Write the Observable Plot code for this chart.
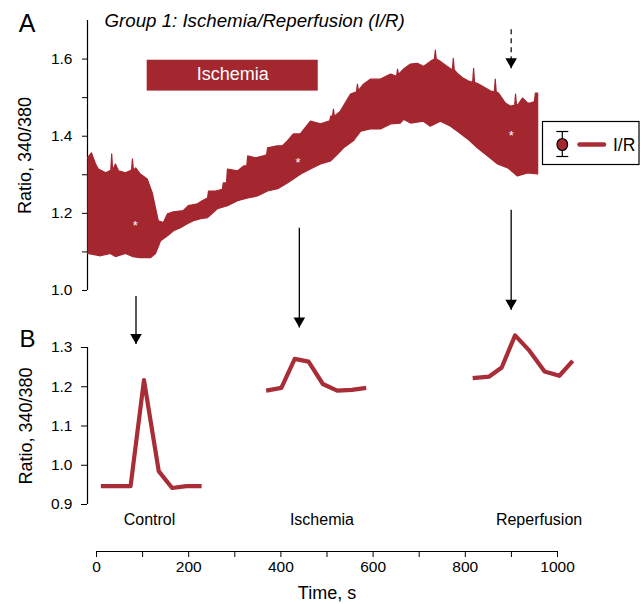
<!DOCTYPE html>
<html><head><meta charset="utf-8">
<script src="https://cdn.jsdelivr.net/npm/d3@7"></script>
<script src="https://cdn.jsdelivr.net/npm/@observablehq/plot@0.6"></script>
<style>
body{margin:0;background:#fff;}
#wrap{position:relative;width:643px;height:604px;overflow:hidden;background:#fff;}
</style></head><body>
<div id="wrap"></div>
<script>
// ---------- data ----------
// Panel A: envelope of the oscillating ratio trace
const upperT = [-19.5,-11,-2,4,20,31,33,35,41,48,63,76,78,80,85,95,110,121,128,134,145,154,167,188,199,219,230,241,243,258,273,275,282,284,306,319,326,328,345,362,369,371,392,403,414,427,442,464,486,506,508,512,514,516,529,551,564,566,568,579,594,616,638,651,653,655,666,681,696,709,724,733,735,737,746,761,772,774,776,783,796,807,816,818,820,829,844,855,863,865,867,872,887,898,907,909,911,915,924,935,941,950,952,957];
const upperV = [1.344,1.357,1.328,1.315,1.305,1.312,1.354,1.312,1.328,1.310,1.305,1.312,1.341,1.312,1.318,1.302,1.289,1.253,1.214,1.181,1.176,1.199,1.204,1.207,1.220,1.225,1.233,1.240,1.258,1.258,1.262,1.279,1.279,1.315,1.310,1.323,1.323,1.349,1.344,1.349,1.352,1.370,1.375,1.375,1.388,1.406,1.406,1.439,1.432,1.440,1.452,1.452,1.470,1.452,1.465,1.509,1.515,1.535,1.518,1.535,1.548,1.548,1.561,1.555,1.574,1.560,1.574,1.587,1.589,1.581,1.594,1.600,1.623,1.600,1.594,1.581,1.572,1.602,1.572,1.563,1.550,1.543,1.540,1.576,1.540,1.535,1.525,1.517,1.515,1.548,1.515,1.512,1.486,1.478,1.480,1.509,1.480,1.483,1.499,1.486,1.486,1.490,1.512,1.512];
const lowerT = [-19.5,9,30,41,63,78,95,117,128,139,154,167,182,197,210,226,241,262,284,306,328,349,371,393,414,427,443,464,486,508,523,536,557,573,594,616,638,659,666,681,709,724,746,768,783,805,826,848,870,892,913,935,957];
const lowerV = [1.096,1.090,1.096,1.088,1.096,1.088,1.085,1.085,1.096,1.129,1.142,1.155,1.163,1.173,1.181,1.186,1.189,1.212,1.220,1.233,1.240,1.245,1.258,1.264,1.279,1.289,1.302,1.315,1.328,1.336,1.354,1.370,1.388,1.413,1.419,1.419,1.432,1.434,1.444,1.434,1.439,1.426,1.439,1.426,1.413,1.393,1.370,1.349,1.328,1.318,1.297,1.305,1.302];
// asterisks marking the sampled beats
const starT = [84, 437, 900];
const starV = [1.177, 1.340, 1.409];
// ischemia period (s)
const ischemiaPeriod = [110, 481];
// Panel A tick values / labels
const aTicks = [1.0,1.1,1.2,1.3,1.4,1.5,1.6];
const aTickLabels = ["1.0","","1.2","","1.4","","1.6"];

// Panel B: single averaged transients
const phases = ["Control","Ischemia","Reperfusion"];
const controlT = [9.5,74,103,135,164,195,228];
const controlV = [0.947,0.947,1.217,0.985,0.942,0.947,0.947];
const ischemiaT = [368,401,430,460,491,522,554,585];
const ischemiaV = [1.190,1.197,1.271,1.264,1.207,1.190,1.192,1.197];
const reperfT = [816,852,879,908,939,972,1004,1033];
const reperfV = [1.222,1.226,1.249,1.331,1.292,1.239,1.228,1.266];
const phaseLabelT = [115, 489, 960];
const bTicks = [0.9,1.0,1.1,1.2,1.3];

// arrows (time, start ratio, tip ratio) in panel B units; dashed one in panel A units
const arrowT = [85.7, 440, 899.5];
const arrowFrom = [1.431, 1.605, 1.651];
const arrowTo = [1.309, 1.351, 1.396];
const dashArrow = [{t: 899.5, from: 1.677, to: 1.576}];

// time axis
const timeTicks = [0,100,200,300,400,500,600,700,800,900,1000];
const timeLabels = ["0","","200","","400","","600","","800","","1000"];

// ---------- build ----------
const RED = "#a4262f";
const RED2 = "#a82d37";
const FONT = "'Liberation Sans', Arial, Helvetica, sans-serif";
const W = 643;
const xDomain = [-19.5, 1000];
const baseStyle = {fontFamily: FONT, fontSize: "15.5px", background: "transparent", overflow: "visible", color: "black"};

const band = upperT.map((t, i) => ({t, v: upperV[i]}))
  .concat(lowerT.map((t, i) => ({t, v: lowerV[i]})).reverse());
const stars = starT.map((t, i) => ({t, v: starV[i]}));
const bRows = [
  ...controlT.map((t, i) => ({phase: phases[0], t, v: controlV[i]})),
  ...ischemiaT.map((t, i) => ({phase: phases[1], t, v: ischemiaV[i]})),
  ...reperfT.map((t, i) => ({phase: phases[2], t, v: reperfV[i]}))
];
const arrows = arrowT.map((t, i) => ({t, from: arrowFrom[i], to: arrowTo[i]}));

const plotA = Plot.plot({
  width: W, height: 300,
  marginLeft: 87, marginRight: 86, marginTop: 20, marginBottom: 10,
  x: {domain: xDomain, axis: null},
  y: {domain: [1.0, 1.7]},
  style: baseStyle,
  marks: [
    Plot.ruleX([xDomain[0]], {stroke: "black", strokeWidth: 1.2}),
    Plot.axisY({ticks: aTicks, tickSize: 5, tickPadding: 10, label: null,
      tickFormat: d => aTickLabels[aTicks.indexOf(d)] ?? ""}),
    Plot.line(band, {x: "t", y: "v", fill: RED, stroke: RED, strokeWidth: 1.2, curve: "linear"}),
    Plot.text(stars, {x: "t", y: "v", text: () => "*", fill: "white", fontSize: 13, dy: 3.5}),
    Plot.rect([ischemiaPeriod], {x1: d => d[0], x2: d => d[1], y1: () => 1.517, y2: () => 1.597, fill: RED}),
    Plot.text([ischemiaPeriod], {x: d => (d[0] + d[1]) / 2, y: () => 1.5615, text: () => "Ischemia",
      fill: "white", fontSize: 18, textAnchor: "middle", lineAnchor: "middle"}),
    Plot.link(dashArrow, {x1: "t", x2: "t", y1: "from", y2: "to", stroke: "black", strokeWidth: 1.2, strokeDasharray: "5,4", strokeLinecap: "butt"}),
    Plot.dot(dashArrow, {x: "t", y: "to", symbol: "triangle", r: 4.3, rotate: 180, fill: "black", stroke: "none", dy: -6.7}),
    Plot.text(["Ratio, 340/380"], {text: d => d, frameAnchor: "left", rotate: -90, dx: -62,
      textAnchor: "middle", lineAnchor: "middle", fontSize: 18}),
    Plot.text(["A"], {text: d => d, frameAnchor: "top-left", dx: -60.5, dy: 3,
      textAnchor: "middle", lineAnchor: "middle", fontSize: 25}),
    Plot.text(["Group 1: Ischemia/Reperfusion (I/R)"], {text: d => d, frameAnchor: "top-left", dx: 17, dy: 0.2,
      textAnchor: "start", lineAnchor: "middle", fontSize: 18.7, fontStyle: "italic"})
  ]
});

const plotB = Plot.plot({
  width: W, height: 330,
  marginLeft: 87, marginRight: 86, marginTop: 147, marginBottom: 26,
  x: {domain: xDomain, axis: null},
  y: {domain: [0.9, 1.3]},
  style: baseStyle,
  marks: [
    Plot.ruleX([xDomain[0]], {y1: () => bTicks[0], y2: () => bTicks[bTicks.length - 1], stroke: "black", strokeWidth: 1.2}),
    Plot.axisY({ticks: bTicks, tickSize: 6, tickPadding: 9, label: null, tickFormat: d => d.toFixed(1)}),
    Plot.line(bRows, {x: "t", y: "v", z: "phase", stroke: RED2, strokeWidth: 4.2, strokeLinejoin: "round", strokeLinecap: "butt"}),
    Plot.text(phases, {x: (d, i) => phaseLabelT[i], text: d => d, frameAnchor: "bottom", dy: 15,
      textAnchor: "middle", lineAnchor: "middle", fontSize: 16}),
    Plot.link(arrows, {x1: "t", x2: "t", y1: "from", y2: "to", stroke: "black", strokeWidth: 1.3, strokeLinecap: "butt"}),
    Plot.dot(arrows, {x: "t", y: "to", symbol: "triangle", r: 4.3, rotate: 180, fill: "black", stroke: "none", dy: -6.7}),
    Plot.text(["Ratio, 340/380"], {text: d => d, frameAnchor: "left", rotate: -90, dx: -61,
      textAnchor: "middle", lineAnchor: "middle", fontSize: 18}),
    Plot.text(["B"], {text: d => d, frameAnchor: "top-left", dx: -60, dy: -7.7,
      textAnchor: "middle", lineAnchor: "middle", fontSize: 24})
  ]
});

const plotT = Plot.plot({
  width: W, height: 74,
  marginLeft: 96, marginRight: 86, marginTop: 0, marginBottom: 53,
  x: {domain: [0, 1000]},
  y: {domain: [0, 1], axis: null},
  style: baseStyle,
  marks: [
    Plot.ruleY([0], {stroke: "black", strokeWidth: 1.2}),
    Plot.axisX({ticks: timeTicks, tickSize: 6, tickPadding: 3, label: null,
      tickFormat: d => timeLabels[timeTicks.indexOf(d)] ?? ""}),
    Plot.text(["Time, s"], {text: d => d, frameAnchor: "bottom", dy: 42,
      textAnchor: "middle", lineAnchor: "middle", fontSize: 18})
  ]
});

const wrap = document.getElementById("wrap");
[[plotA, 0], [plotB, 200], [plotT, 530]].forEach(([el, top]) => {
  el.style.position = "absolute";
  el.style.left = "0px";
  el.style.top = top + "px";
  el.style.maxWidth = "none";
  wrap.appendChild(el);
});

// legend
const leg = d3.select(wrap).append("svg")
  .attr("width", 100).attr("height", 46)
  .style("position", "absolute").style("left", "541px").style("top", "119.5px")
  .style("overflow", "visible");
const ox = 1.5, oy = 1.5;
leg.append("rect").attr("x", ox).attr("y", oy).attr("width", 96.5).attr("height", 43)
  .attr("fill", "white").attr("stroke", "black").attr("stroke-width", 1.2);
const ex = ox + 19.8;
leg.append("line").attr("x1", ex).attr("x2", ex).attr("y1", oy + 10).attr("y2", oy + 35).attr("stroke", "black").attr("stroke-width", 1.2);
[10, 35].forEach(y => leg.append("line").attr("x1", ex - 6).attr("x2", ex + 6).attr("y1", oy + y).attr("y2", oy + y).attr("stroke", "black").attr("stroke-width", 1.2));
leg.append("ellipse").attr("cx", ex).attr("cy", oy + 23).attr("rx", 5.3).attr("ry", 6)
  .attr("fill", RED).attr("stroke", "black").attr("stroke-width", 1.2);
leg.append("line").attr("x1", ox + 37).attr("x2", ox + 61.5).attr("y1", oy + 23).attr("y2", oy + 23)
  .attr("stroke", RED2).attr("stroke-width", 4.5).attr("stroke-linecap", "round");
leg.append("text").attr("x", ox + 70.5).attr("y", oy + 29).text("I/R")
  .attr("font-family", FONT).attr("font-size", 17.5).attr("fill", "black");
</script>
</body></html>
